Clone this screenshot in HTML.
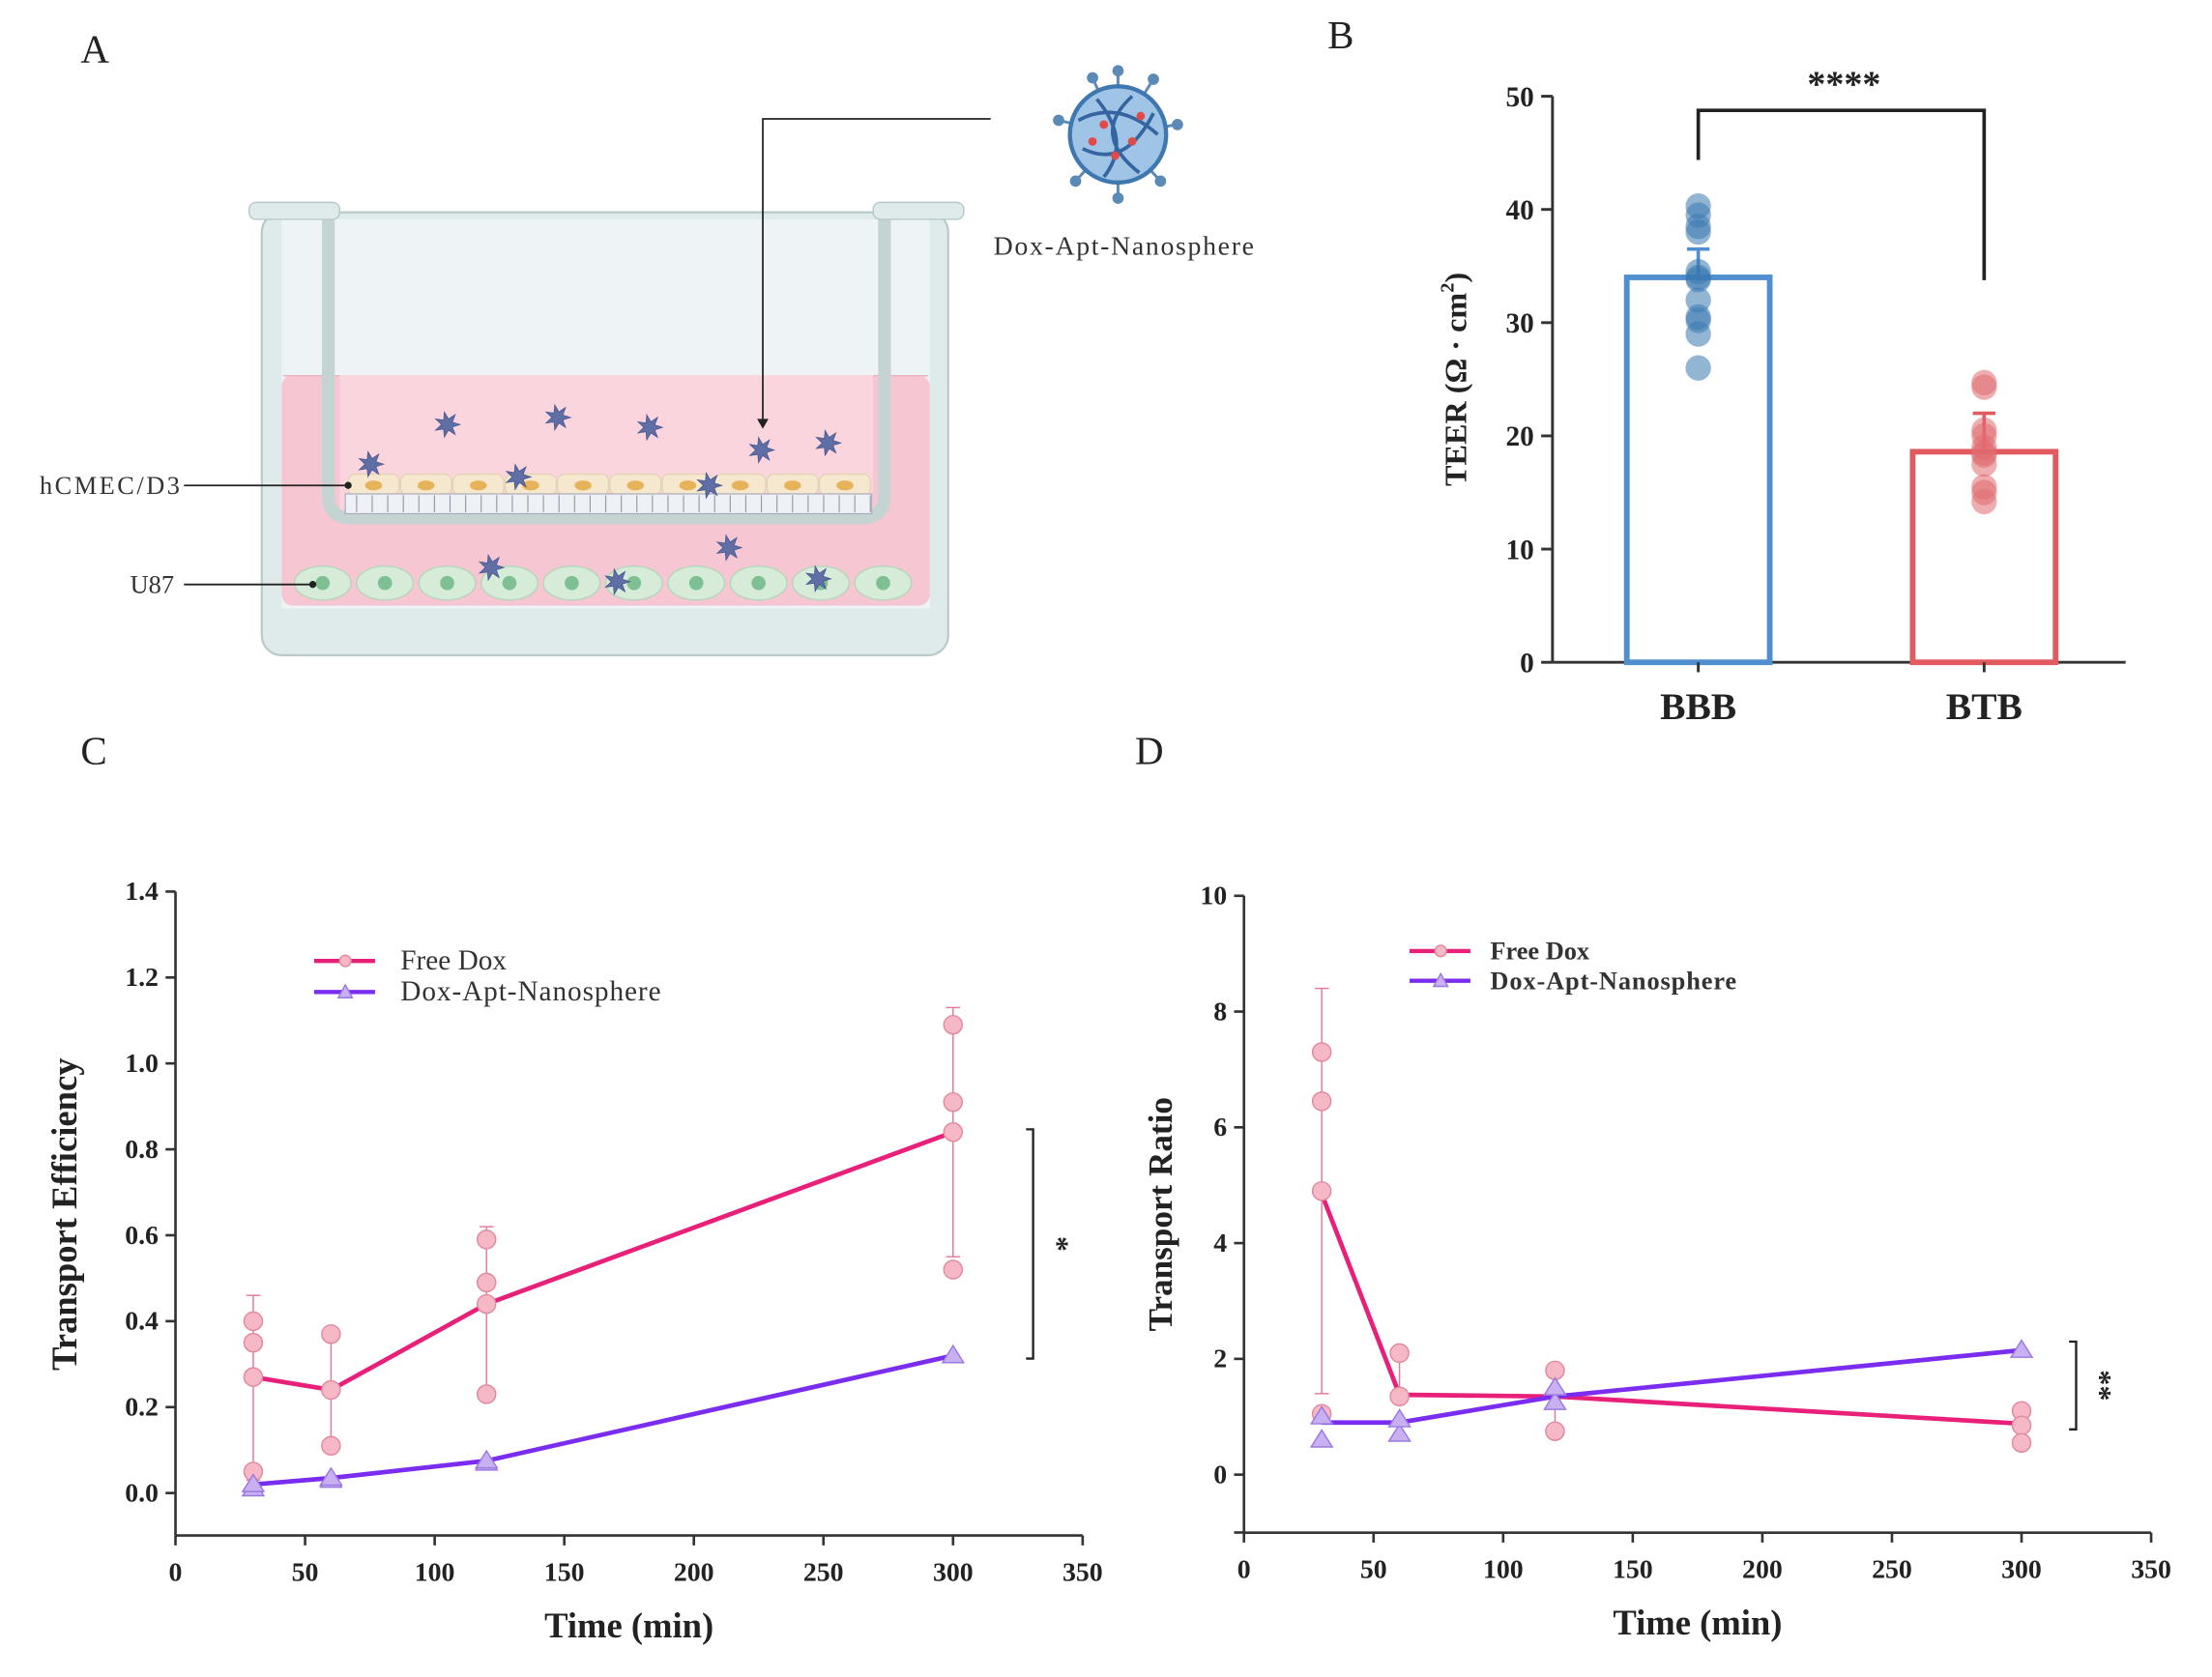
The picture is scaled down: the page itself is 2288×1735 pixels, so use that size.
<!DOCTYPE html>
<html><head><meta charset="utf-8"><style>
html,body{margin:0;padding:0;background:#fff;}
svg{display:block;}
text{font-family:"Liberation Serif",serif;}
</style></head><body>
<svg id="fig" width="2288" height="1735" viewBox="0 0 1563 1185" preserveAspectRatio="none" xmlns="http://www.w3.org/2000/svg">
<rect x="0" y="0" width="1563" height="1185" fill="#fff"/>
<text x="57" y="44" font-size="28" fill="#222">A</text>
<text x="938" y="34" font-size="28" fill="#222">B</text>
<text x="57" y="540" font-size="28" fill="#222">C</text>
<text x="802" y="540" font-size="28" fill="#222">D</text>

<!-- Panel A illustration -->
<g>
 <rect x="185" y="150" width="485" height="313" rx="14" fill="#dfeaea" stroke="#b9c9c9" stroke-width="1.5"/>
 <rect x="199" y="155" width="458" height="275" fill="#eef3f5"/>
 <rect x="199" y="265" width="458" height="163" rx="8" fill="#f6c6d3"/>
 <rect x="200" y="265" width="456" height="1" fill="#eab3c0"/>
 <path d="M232 150 L232 350 Q232 366 248 366 L609 366 Q625 366 625 350 L625 150" fill="none" stroke="#c5d3d3" stroke-width="9"/>
 <rect x="240" y="265" width="377" height="95" fill="#fad5de"/>
 <rect x="240" y="155" width="377" height="110" fill="#eef3f5"/>
 <rect x="176" y="143" width="64" height="12" rx="5" fill="#dfeaea" stroke="#b9c9c9"/>
 <rect x="617" y="143" width="64" height="12" rx="5" fill="#dfeaea" stroke="#b9c9c9"/>
 <g id="cellsTop"></g>
 <rect x="244" y="349" width="372" height="14" fill="#eef1f6" stroke="#aab" stroke-width="0.8"/>
 <g id="pores"></g>
 <g id="cellsBottom"></g>
 <g id="stars"></g>
 <line x1="130" y1="343" x2="245" y2="343" stroke="#222" stroke-width="1.2"/>
 <circle cx="246" cy="343" r="2.5" fill="#222"/>
 <line x1="130" y1="413" x2="220" y2="413" stroke="#222" stroke-width="1.2"/>
 <circle cx="221" cy="413" r="2.5" fill="#222"/>
 <text x="28" y="349" font-size="18" fill="#333" textLength="99">hCMEC/D3</text>
 <text x="92" y="419" font-size="18" fill="#333">U87</text>
 <polyline points="700,84 539,84 539,297" fill="none" stroke="#222" stroke-width="1.2"/>
 <polygon points="535,296 543,296 539,303" fill="#222"/>
 <g>
  <g stroke="#5a8ab5" stroke-width="2">
   <line x1="790" y1="95" x2="790" y2="50"/><line x1="790" y1="95" x2="832" y2="88"/><line x1="790" y1="95" x2="748" y2="85"/>
   <line x1="790" y1="95" x2="820" y2="128"/><line x1="790" y1="95" x2="760" y2="128"/><line x1="790" y1="95" x2="772" y2="55"/><line x1="790" y1="95" x2="815" y2="56"/><line x1="790" y1="95" x2="790" y2="140"/>
  </g>
  <g fill="#5a8ab5"><circle cx="790" cy="50" r="4"/><circle cx="832" cy="88" r="4"/><circle cx="748" cy="85" r="4"/><circle cx="820" cy="128" r="4"/><circle cx="760" cy="128" r="4"/><circle cx="772" cy="55" r="4"/><circle cx="815" cy="56" r="4"/><circle cx="790" cy="140" r="4"/></g>
  <circle cx="790" cy="95" r="34" fill="#9fc4e6" stroke="#3f78b0" stroke-width="3"/>
  <path d="M762 85 Q790 70 818 95 M765 105 Q795 120 815 80 M775 70 Q800 100 780 125 M800 68 Q770 95 805 122" fill="none" stroke="#3465a0" stroke-width="2.5"/>
  <g fill="#e04a4a"><circle cx="780" cy="88" r="3"/><circle cx="800" cy="100" r="3"/><circle cx="788" cy="110" r="3"/><circle cx="806" cy="82" r="3"/><circle cx="772" cy="100" r="3"/></g>
 </g>
 <text x="794" y="180" font-size="19" fill="#333" text-anchor="middle" textLength="184">Dox-Apt-Nanosphere</text>
</g>

<g id="panelB"></g>
<g id="panelC"></g>
<g id="panelD"></g>
</svg>
<script>
// ---------- Panel B data ----------
const bCategories = ["BBB", "BTB"];
const bMeans = [34, 18.6];
const bPointsBBB = [40.3, 39.5, 38.5, 38, 34.5, 34, 33.8, 32, 30.5, 30.2, 29, 26];
const bPointsBTB = [24.7, 24.3, 20.5, 20, 19, 18.5, 18.3, 17.5, 15.5, 15, 14.2];
const bErrTop = [36.5, 22];
const bYTicks = [0, 10, 20, 30, 40, 50];

// ---------- Panel C data ----------
const cTimes = [30, 60, 120, 300];
const cFreeDoxMean = [0.27, 0.24, 0.44, 0.84];
const cNanoMean = [0.02, 0.035, 0.075, 0.32];
const cFreeDoxPoints = [[0.40, 0.35, 0.05, 0.27], [0.37, 0.11, 0.24], [0.59, 0.49, 0.23, 0.44], [1.09, 0.91, 0.52, 0.84]];
const cNanoPoints = [[0.01, 0.02], [0.03, 0.035], [0.07, 0.075], [0.32]];
const cFreeErrHi = [0.46, 0.37, 0.62, 1.13];
const cFreeErrLo = [0.03, 0.11, 0.23, 0.55];
const cYTicks = [0.0, 0.2, 0.4, 0.6, 0.8, 1.0, 1.2, 1.4];
const cXTicks = [0, 50, 100, 150, 200, 250, 300, 350];

// ---------- Panel D data ----------
const dTimes = [30, 60, 120, 300];
const dFreeDoxMean = [4.85, 1.38, 1.35, 0.88];
const dNanoMean = [0.9, 0.9, 1.35, 2.15];
const dFreeDoxPoints = [[7.3, 6.45, 4.9, 1.05], [2.1, 1.35], [1.8, 0.75], [1.1, 0.85, 0.55]];
const dNanoPoints = [[0.6, 1.0], [0.7, 0.95], [1.25, 1.5], [2.15]];
const dFreeErrHi = [8.4, 2.1, 1.8, 1.1];
const dFreeErrLo = [1.4, 1.35, 0.75, 0.6];
const dYTicks = [0, 2, 4, 6, 8, 10];
const dXTicks = [0, 50, 100, 150, 200, 250, 300, 350];

const NS = "http://www.w3.org/2000/svg";
function mk(parent, tag, attrs, txt) {
  const e = document.createElementNS(NS, tag);
  for (const k in attrs) e.setAttribute(k, attrs[k]);
  if (txt !== undefined) e.textContent = txt;
  parent.appendChild(e);
  return e;
}

// ---------- Panel A decorative cells ----------
(function () {
  const ct = document.getElementById("cellsTop");
  for (let i = 0; i < 10; i++) {
    const x = 246 + i * 37;
    const c = mk(ct, "rect", {x: x, y: 335, width: 36, height: 15, rx: 5, fill: "#f6e7cf", stroke: "#e2d2b5", "stroke-width": 0.8});
    
    
    mk(ct, "ellipse", {cx: x + 18, cy: 343, rx: 6, ry: 3.5, fill: "#e6b35a"});
  }
  const pr = document.getElementById("pores");
  for (let i = 0; i < 34; i++) mk(pr, "line", {x1: 252 + i * 11, y1: 350, x2: 252 + i * 11, y2: 362, stroke: "#99a", "stroke-width": 0.8});
  const cb = document.getElementById("cellsBottom");
  for (let i = 0; i < 10; i++) {
    const x = 228 + i * 44;
    const c = mk(cb, "ellipse", {cx: x, cy: 412, rx: 20, ry: 12, fill: "#d6ecd9", stroke: "#b6d6bc", "stroke-width": 1});
    
    
    mk(cb, "circle", {cx: x, cy: 412, r: 5, fill: "#7fbf94"});
  }
  const st = document.getElementById("stars");
  const sp = [[316,300],[394,295],[459,302],[538,318],[585,313],[262,328],[366,337],[501,343],[515,387],[347,401],[436,411],[578,409]];
  sp.forEach(p => {
    let pts = [];
    for (let k = 0; k < 14; k++) {
      const r = k % 2 ? 4 : 9, a = k * Math.PI / 7;
      pts.push((p[0] + r * Math.cos(a)).toFixed(1) + "," + (p[1] + r * Math.sin(a)).toFixed(1));
    }
    const s = mk(st, "polygon", {points: pts.join(" "), fill: "#5f6fa6", stroke: "#4a5a90", "stroke-width": 0.6});
    
    
  });
})();

// ---------- Panel B ----------
(function () {
  const g = document.getElementById("panelB");
  const x0 = 1097, x1 = 1502, yBase = 468, yTop = 68;
  const ys = v => yBase - (v / 50) * (yBase - yTop);
  const xc = [1200, 1402];
  const bw = 101;
  const ax = mk(g, "line", {x1: x0, y1: yTop, x2: x0, y2: yBase, stroke: "#333", "stroke-width": 2});
   
  const xa = mk(g, "line", {x1: x0, y1: yBase, x2: x1, y2: yBase, stroke: "#333", "stroke-width": 2});
   
  bYTicks.forEach(t => {
    mk(g, "line", {x1: x0 - 8, y1: ys(t), x2: x0, y2: ys(t), stroke: "#333", "stroke-width": 2});
    const tl = mk(g, "text", {x: x0 - 13, y: ys(t) + 7, "font-size": 20, "font-weight": "bold", "text-anchor": "end", fill: "#222"}, t);
     
  });
  const colors = ["#4f8fcf", "#e05a60"];
  const ptColors = ["#3a78b0", "#e06b70"];
  const pts = [bPointsBBB, bPointsBTB];
  bCategories.forEach((c, i) => {
    const b = mk(g, "rect", {x: xc[i] - bw / 2, y: ys(bMeans[i]), width: bw, height: yBase - ys(bMeans[i]), fill: "none", stroke: colors[i], "stroke-width": 4});
     
    mk(g, "line", {x1: xc[i], y1: yBase, x2: xc[i], y2: yBase + 7, stroke: "#333", "stroke-width": 2});
    mk(g, "line", {x1: xc[i], y1: ys(bErrTop[i]), x2: xc[i], y2: ys(bMeans[i]), stroke: colors[i], "stroke-width": 2.5});
    mk(g, "line", {x1: xc[i] - 8, y1: ys(bErrTop[i]), x2: xc[i] + 8, y2: ys(bErrTop[i]), stroke: colors[i], "stroke-width": 2.5});
    pts[i].forEach(v => {
      const p = mk(g, "circle", {cx: xc[i], cy: ys(v), r: 9, fill: ptColors[i], "fill-opacity": 0.55});
       
    });
    const lb = mk(g, "text", {x: xc[i], y: 508, "font-size": 27, "font-weight": "bold", "text-anchor": "middle", fill: "#222"}, c);
     
  });
  const br = mk(g, "polyline", {points: `${xc[0]},113 ${xc[0]},78 ${xc[1]},78 ${xc[1]},198`, fill: "none", stroke: "#222", "stroke-width": 2.5});
   
  const sg = mk(g, "text", {x: 1303, y: 68, "font-size": 26, "font-weight": "bold", "text-anchor": "middle", fill: "#222"}, "****");
   
  const yt = mk(g, "text", {x: 0, y: 0, "font-size": 22, "font-weight": "bold", "text-anchor": "middle", fill: "#222", transform: "translate(1036,268) rotate(-90)"});
   
  yt.innerHTML = 'TEER (Ω · cm<tspan font-size="14" dy="-9">2</tspan><tspan dy="9">)</tspan>';
})();

// ---------- Line chart helper ----------
function lineChart(gid, cfg) {
  const g = document.getElementById(gid);
  const xs = v => cfg.px0 + (v - 0) / 350 * (cfg.px1 - cfg.px0);
  const ys = v => cfg.py0 - (v - cfg.ymin0) / (cfg.ymaxRef - cfg.ymin0) * (cfg.py0 - cfg.pyTop);
  const ya = mk(g, "line", {x1: cfg.px0, y1: cfg.pyTop, x2: cfg.px0, y2: cfg.axisY, stroke: "#333", "stroke-width": 1.8});
   
  const xa = mk(g, "line", {x1: cfg.px0, y1: cfg.axisY, x2: cfg.px1, y2: cfg.axisY, stroke: "#333", "stroke-width": 1.8});
   
  cfg.yTicks.forEach(t => {
    mk(g, "line", {x1: cfg.px0 - 7, y1: ys(t), x2: cfg.px0, y2: ys(t), stroke: "#333", "stroke-width": 1.8});
    const tl = mk(g, "text", {x: cfg.px0 - 12, y: ys(t) + 6, "font-size": 19, "font-weight": "bold", "text-anchor": "end", fill: "#222"}, cfg.fmt(t));
     
  });
  if (cfg.extraYTick !== undefined) mk(g, "line", {x1: cfg.px0 - 7, y1: ys(cfg.extraYTick), x2: cfg.px0, y2: ys(cfg.extraYTick), stroke: "#333", "stroke-width": 1.8});
  cfg.xTicks.forEach(t => {
    mk(g, "line", {x1: xs(t), y1: cfg.axisY, x2: xs(t), y2: cfg.axisY + 7, stroke: "#333", "stroke-width": 1.8});
    const tl = mk(g, "text", {x: xs(t), y: cfg.axisY + 32, "font-size": 19, "font-weight": "bold", "text-anchor": "middle", fill: "#222"}, t);
     
  });
  const xt = mk(g, "text", {x: (cfg.px0 + cfg.px1) / 2 + cfg.xTitleShift, y: cfg.axisY + 72, "font-size": 25, "font-weight": "bold", "text-anchor": "middle", fill: "#222"}, "Time (min)");
   
  const yt = mk(g, "text", {x: 0, y: 0, "font-size": cfg.yTitleSize, "font-weight": "bold", "text-anchor": "middle", fill: "#222", transform: `translate(${cfg.yTitleX},858) rotate(-90)`}, cfg.yTitle);
   

  cfg.times.forEach((t, i) => {
    const e = mk(g, "line", {x1: xs(t), y1: ys(cfg.errHi[i]), x2: xs(t), y2: ys(cfg.errLo[i]), stroke: "#e37a9a", "stroke-width": 1});
     
    mk(g, "line", {x1: xs(t) - 5, y1: ys(cfg.errHi[i]), x2: xs(t) + 5, y2: ys(cfg.errHi[i]), stroke: "#e37a9a", "stroke-width": 1});
    mk(g, "line", {x1: xs(t) - 5, y1: ys(cfg.errLo[i]), x2: xs(t) + 5, y2: ys(cfg.errLo[i]), stroke: "#e37a9a", "stroke-width": 1});
  });
  const l1 = mk(g, "polyline", {points: cfg.times.map((t, i) => xs(t) + "," + ys(cfg.freeMean[i])).join(" "), fill: "none", stroke: "#e8207a", "stroke-width": 3.2});
   
  const l2 = mk(g, "polyline", {points: cfg.times.map((t, i) => xs(t) + "," + ys(cfg.nanoMean[i])).join(" "), fill: "none", stroke: "#7a2cf0", "stroke-width": 3.2});
   
  cfg.times.forEach((t, i) => {
    cfg.freePts[i].forEach(v => {
      const p = mk(g, "circle", {cx: xs(t), cy: ys(v), r: 6.5, fill: "#f7b8c6", stroke: "#e08aa0", "stroke-width": 1});
       
    });
    cfg.nanoPts[i].forEach(v => {
      const x = xs(t), y = ys(v);
      const p = mk(g, "polygon", {points: `${x},${y - 7} ${x - 7.5},${y + 5} ${x + 7.5},${y + 5}`, fill: "#c8b0f2", stroke: "#9a7ae0", "stroke-width": 1});
       
    });
  });
  const L = cfg.legend;
  const le1 = mk(g, "line", {x1: L.x, y1: L.y1, x2: L.x + 43, y2: L.y1, stroke: "#e8207a", "stroke-width": 3});
   
  mk(g, "circle", {cx: L.x + 22, cy: L.y1, r: 4, fill: "#f7b8c6", stroke: "#e08aa0"});
  const le2 = mk(g, "line", {x1: L.x, y1: L.y2, x2: L.x + 43, y2: L.y2, stroke: "#7a2cf0", "stroke-width": 3});
   
  mk(g, "polygon", {points: `${L.x + 22},${L.y2 - 5} ${L.x + 17},${L.y2 + 4} ${L.x + 27},${L.y2 + 4}`, fill: "#c8b0f2", stroke: "#9a7ae0"});
  const t1 = mk(g, "text", {x: L.x + L.off, y: L.y1 + 6, "font-size": L.size, "font-weight": L.bold ? "bold" : "normal", fill: "#333"}, "Free Dox");
   
  const t2 = mk(g, "text", {x: L.x + L.off, y: L.y2 + 6, "font-size": L.size, "font-weight": L.bold ? "bold" : "normal", fill: "#333", textLength: L.len}, "Dox-Apt-Nanosphere");
   
  const B = cfg.bracket;
  const br = mk(g, "polyline", {points: `${B.x - 5},${B.y1} ${B.x},${B.y1} ${B.x},${B.y2} ${B.x - 5},${B.y2}`, fill: "none", stroke: "#222", "stroke-width": 1.6});
   
  const s = mk(g, "text", {x: 0, y: 0, "font-size": 22, "font-weight": "bold", "text-anchor": "middle", fill: "#222", transform: `translate(${B.x + 10},${(B.y1 + B.y2) / 2}) rotate(90)`}, B.label);
   
}

lineChart("panelC", {
  px0: 124, px1: 765, py0: 1055, pyTop: 630, ymin0: 0, ymaxRef: 1.4, axisY: 1085,
  yTicks: cYTicks, xTicks: cXTicks, fmt: t => t.toFixed(1), xTitleShift: 0,
  yTitle: "Transport Efficiency", yTitleX: 54, yTitleSize: 25,
  times: cTimes, freeMean: cFreeDoxMean, nanoMean: cNanoMean, freePts: cFreeDoxPoints, nanoPts: cNanoPoints,
  errHi: cFreeErrHi, errLo: cFreeErrLo,
  legend: {x: 222, y1: 679, y2: 701, bold: false, size: 20, off: 61, len: 184},
  bracket: {x: 730, y1: 798, y2: 960, label: "*"}
});
lineChart("panelD", {
  px0: 879, px1: 1520, py0: 1042, pyTop: 633, ymin0: 0, ymaxRef: 10, axisY: 1083,
  yTicks: dYTicks, xTicks: dXTicks, fmt: t => String(t), xTitleShift: 0, extraYTick: -1,
  yTitle: "Transport Ratio", yTitleX: 828, yTitleSize: 24,
  times: dTimes, freeMean: dFreeDoxMean, nanoMean: dNanoMean, freePts: dFreeDoxPoints, nanoPts: dNanoPoints,
  errHi: dFreeErrHi, errLo: dFreeErrLo,
  legend: {x: 996, y1: 672, y2: 693, bold: true, size: 18, off: 57, len: 174},
  bracket: {x: 1467, y1: 948, y2: 1010, label: "**"}
});
</script>
</body></html>
